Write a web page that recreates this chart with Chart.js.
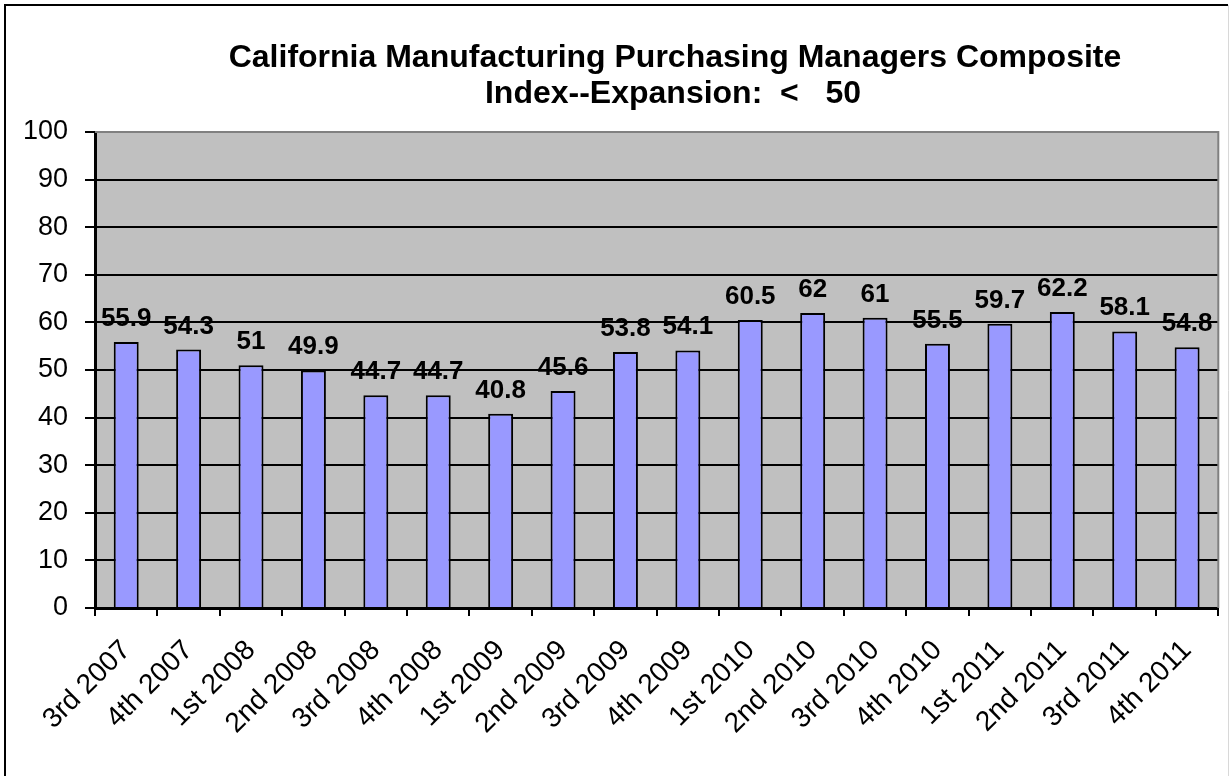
<!DOCTYPE html>
<html>
<head>
<meta charset="utf-8">
<script src="https://cdn.jsdelivr.net/npm/chart.js@4/dist/chart.umd.min.js"></script>
<style>
  html, body { margin: 0; padding: 0; background: #fff; }
  #wrap { width: 1229px; height: 776px; position: relative; }
</style>
</head>
<body>
<div id="wrap"><canvas id="grafico"></canvas></div>
<script>
// Datos del grafico
const trimestres = ["3rd 2007", "4th 2007", "1st 2008", "2nd 2008", "3rd 2008", "4th 2008",
  "1st 2009", "2nd 2009", "3rd 2009", "4th 2009", "1st 2010", "2nd 2010",
  "3rd 2010", "4th 2010", "1st 2011", "2nd 2011", "3rd 2011", "4th 2011"];
const indice = [55.9, 54.3, 51, 49.9, 44.7, 44.7, 40.8, 45.6, 53.8, 54.1, 60.5, 62, 61, 55.5, 59.7, 62.2, 58.1, 54.8];
const ticksY = [0, 10, 20, 30, 40, 50, 60, 70, 80, 90, 100];
const tituloLineas = ["California Manufacturing Purchasing Managers Composite", "Index--Expansion:  <   50"];

const fuente = "Arial, 'Liberation Sans', sans-serif";

// Fondo gris del area de trazado
const fondoPlugin = {
  id: "fondo",
  beforeDraw(chart) {
    const { ctx, chartArea: a } = chart;
    ctx.save();
    ctx.fillStyle = "#C0C0C0";
    ctx.fillRect(a.left, a.top, a.right - a.left, a.bottom - a.top);
    ctx.restore();
  }
};

// Etiquetas de valores sobre las barras + bordes
const etiquetasPlugin = {
  id: "etiquetas",
  afterDatasetsDraw(chart) {
    const { ctx, chartArea: a } = chart;
    ctx.save();
    // borde gris superior y derecho del area
    ctx.strokeStyle = "#808080";
    ctx.lineWidth = 2;
    ctx.beginPath();
    ctx.moveTo(a.left, a.top);
    ctx.lineTo(a.right, a.top);
    ctx.lineTo(a.right, a.bottom);
    ctx.stroke();

    ctx.fillStyle = "#000";
    ctx.font = "bold 26px " + fuente;
    ctx.textAlign = "center";
    ctx.textBaseline = "alphabetic";
    chart.getDatasetMeta(0).data.forEach((bar, i) => {
      ctx.fillText(String(indice[i]), bar.x, bar.y - 16);
    });
    ctx.restore();
  },
  afterDraw(chart) {
    const { ctx } = chart;
    ctx.save();
    // titulo
    ctx.fillStyle = "#000";
    ctx.font = "bold 32px " + fuente;
    ctx.textAlign = "center";
    ctx.textBaseline = "alphabetic";
    ctx.fillText(tituloLineas[0], 675, 67);
    ctx.fillText(tituloLineas[1], 673, 103);
    // marco exterior
    ctx.strokeStyle = "#000";
    ctx.lineWidth = 2;
    ctx.beginPath();
    ctx.moveTo(5, 776);
    ctx.lineTo(5, 5);
    ctx.lineTo(1228, 5);
    ctx.stroke();
    ctx.strokeStyle = "#d8d8d8";
    ctx.lineWidth = 1;
    ctx.beginPath();
    ctx.moveTo(1228.5, 5);
    ctx.lineTo(1228.5, 776);
    ctx.stroke();
    ctx.restore();
  }
};

const ctx = document.getElementById("grafico").getContext("2d");
const grafico = new Chart(ctx, {
  type: "bar",
  data: {
    labels: trimestres,
    datasets: [{
      data: indice,
      backgroundColor: "#9999FF",
      borderColor: "#000",
      borderWidth: 2,
      categoryPercentage: 0.8,
      barPercentage: 0.5
    }]
  },
  options: {
    responsive: true,
    maintainAspectRatio: false,
    devicePixelRatio: 1,
    animation: false,
    layout: { padding: { top: 132, right: 5, bottom: 0, left: 0 } },
    plugins: {
      legend: { display: false },
      title: { display: false },
      tooltip: { enabled: false }
    },
    scales: {
      x: {
        afterFit(scale) { scale.height = 168; },
        grid: { drawOnChartArea: false, color: "#000", lineWidth: 2, tickLength: 8, offset: true },
        border: { color: "#000", width: 3 },
        ticks: {
          color: "#000",
          font: { family: fuente, size: 28 },
          minRotation: 45,
          maxRotation: 45,
          autoSkip: false,
          padding: 18
        }
      },
      y: {
        min: 0,
        max: 100,
        afterFit(scale) { scale.width = 95; },
        afterBuildTicks(scale) { scale.ticks = ticksY.map(v => ({ value: v })); },
        grid: { color: "#000", lineWidth: 2, tickLength: 10 },
        border: { color: "#000", width: 3 },
        ticks: {
          color: "#000",
          font: { family: fuente, size: 27 },
          padding: 17
        }
      }
    }
  },
  plugins: [fondoPlugin, etiquetasPlugin]
});
</script>
</body>
</html>
